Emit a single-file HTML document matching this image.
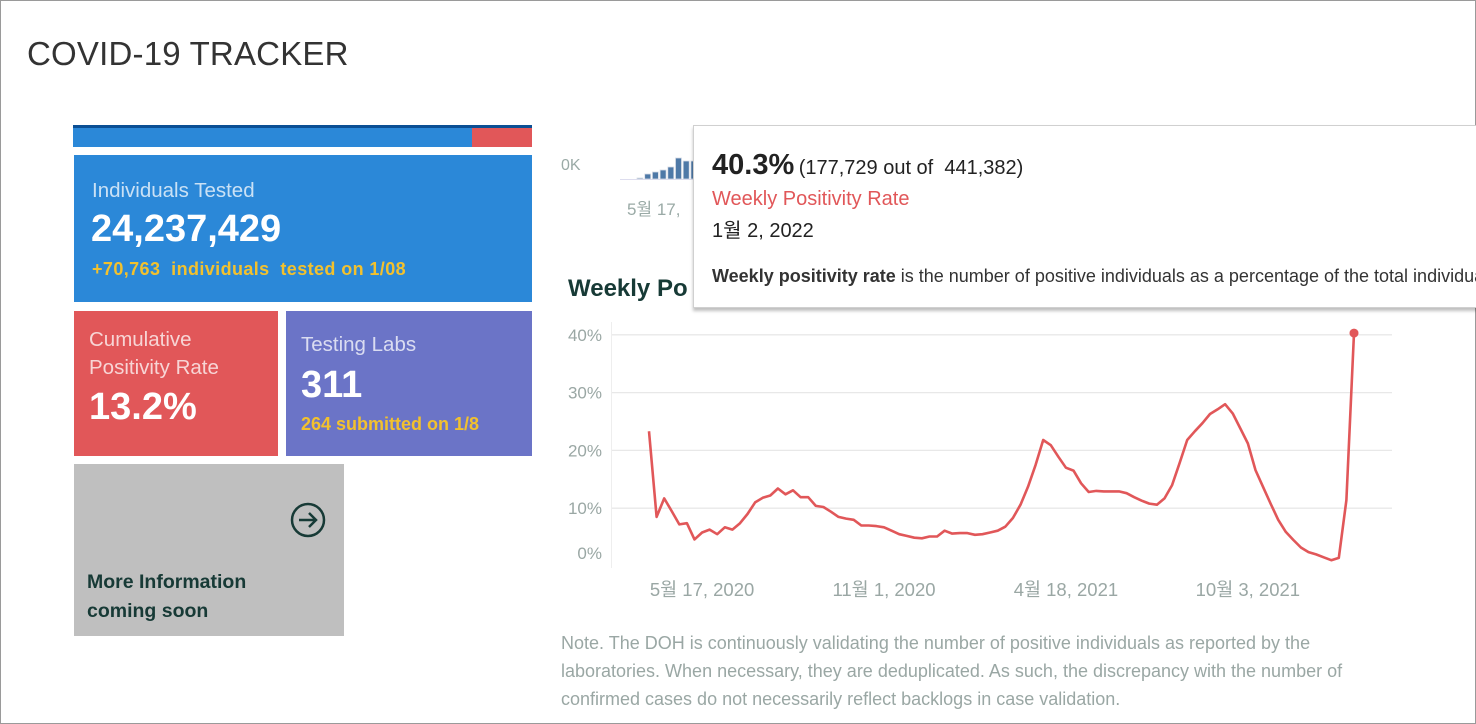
<!DOCTYPE html>
<html><head><meta charset="utf-8">
<style>
*{margin:0;padding:0;box-sizing:border-box}
body{width:1476px;height:724px;background:#fff;font-family:"Liberation Sans","Noto Sans CJK KR",sans-serif;position:relative;overflow:hidden}
.abs{position:absolute}
#frame{left:0;top:0;width:1476px;height:724px;border:1px solid #9a9a9a}
.card{position:absolute;color:#fff}
.lbl{font-size:20.5px;opacity:.75}
.big{font-weight:bold;font-size:38px}
.sub{font-weight:bold;font-size:18px;color:#f2c12e}
</style></head><body>
<div id="frame" class="abs"></div>
<div class="abs" style="left:27px;top:35px;font-size:33px;color:#333;letter-spacing:0.2px">COVID-19 TRACKER</div>

<div class="abs" style="left:73px;top:125px;width:459px;height:3px;background:#0b4f94"></div>
<div class="abs" style="left:73px;top:128px;width:399px;height:19px;background:#2b88d8"></div>
<div class="abs" style="left:472px;top:128px;width:60px;height:19px;background:#e15759"></div>

<div class="card" style="left:74px;top:155px;width:458px;height:147px;background:#2b88d8">
 <div class="abs lbl" style="left:18px;top:24px">Individuals Tested</div>
 <div class="abs big" style="left:17px;top:53px">24,237,429</div>
 <div class="abs sub" style="left:18px;top:104px;letter-spacing:0.4px">+70,763&nbsp; individuals&nbsp; tested on 1/08</div>
</div>
<div class="card" style="left:74px;top:311px;width:204px;height:145px;background:#e15759">
 <div class="abs lbl" style="left:15px;top:15px;line-height:28px">Cumulative<br>Positivity Rate</div>
 <div class="abs big" style="left:15px;top:75px">13.2%</div>
</div>
<div class="card" style="left:286px;top:311px;width:246px;height:145px;background:#6b74c7">
 <div class="abs lbl" style="left:15px;top:22px">Testing Labs</div>
 <div class="abs big" style="left:15px;top:53px">311</div>
 <div class="abs sub" style="left:15px;top:103px">264 submitted on 1/8</div>
</div>
<div class="card" style="left:74px;top:464px;width:270px;height:172px;background:#bfbfbf">
 <svg class="abs" style="left:216px;top:38px" width="36" height="36" viewBox="0 0 36 36"><circle cx="18" cy="18" r="16" fill="none" stroke="#173a36" stroke-width="2.5"/><path d="M9 18h16M19 11l7 7-7 7" fill="none" stroke="#173a36" stroke-width="2.5"/></svg>
 <div class="abs" style="left:13px;top:104px;color:#173a36;font-weight:bold;font-size:19.5px;line-height:29px">More Information<br>coming soon</div>
</div>

<div class="abs" style="left:561px;top:157px;font-size:16px;color:#9aaaa6">0K</div>
<svg class="abs" id="mini" style="left:620px;top:140px" width="80" height="45"></svg>
<div class="abs" style="left:627px;top:195px;font-size:17px;color:#9aaaa6">5월 17,</div>

<div class="abs" style="left:568px;top:275px;font-size:24px;font-weight:bold;color:#173a36">Weekly Po</div>

<svg class="abs" id="chart" style="left:0;top:0" width="1476" height="724"></svg>

<div class="abs" style="left:561px;top:629px;width:830px;font-size:18px;line-height:28px;color:#9aa7a4">Note. The DOH is continuously validating the number of positive individuals as reported by the laboratories. When necessary, they are deduplicated. As such, the discrepancy with the number of confirmed cases do not necessarily reflect backlogs in case validation.</div>

<div class="abs" style="left:693px;top:125px;width:790px;height:183px;background:#fff;border:1px solid #d0d0d0;box-shadow:0 3px 3px rgba(0,0,0,.25);overflow:hidden;white-space:nowrap">
 <div class="abs" style="left:18px;top:23px;color:#222"><b style="font-size:29px">40.3%</b> <span style="font-size:20px">(177,729 out of &nbsp;441,382)</span></div>
 <div class="abs" style="left:18px;top:62px;font-size:20px;color:#e15759">Weekly Positivity Rate</div>
 <div class="abs" style="left:18px;top:88px;font-size:20px;color:#222">1월 2, 2022</div>
 <div class="abs" style="left:18px;top:140px;font-size:18px;color:#333"><b>Weekly positivity rate</b> is the number of positive individuals as a percentage of the total individuals tested</div>
</div>

<script>
const miniValues = [1, 5, 7, 9, 12, 21, 18, 18];
const yTickValues = [0, 10, 20, 30, 40];
const yTickLabels = ['0%', '10%', '20%', '30%', '40%'];
const xTickIndex = [7, 31, 55, 79];
const xTickLabels = ['5월 17, 2020', '11월 1, 2020', '4월 18, 2021', '10월 3, 2021'];
const positivity = [23.3,8.5,11.7,9.5,7.2,7.4,4.6,5.8,6.3,5.5,
6.7,6.3,7.4,9.0,11.0,11.8,12.2,13.4,12.4,13.1,
11.9,11.9,10.4,10.2,9.4,8.5,8.2,8.0,7.0,7.0,
6.9,6.7,6.1,5.5,5.2,4.9,4.8,5.1,5.1,6.1,
5.6,5.7,5.7,5.4,5.5,5.8,6.1,6.8,8.3,10.6,
13.7,17.5,21.8,20.9,18.9,17.0,16.5,14.3,12.8,13.0,
12.9,12.9,12.9,12.6,11.9,11.3,10.8,10.6,11.7,14.0,
17.8,21.8,23.3,24.7,26.3,27.1,28.0,26.4,23.8,21.2,
16.6,13.7,10.8,8.0,5.9,4.5,3.2,2.4,2.0,1.5,
1.0,1.4,11.4,40.3];

const NS='http://www.w3.org/2000/svg';
function mk(tag, attrs, parent){const e=document.createElementNS(NS,tag);for(const k in attrs)e.setAttribute(k,attrs[k]);parent.appendChild(e);return e;}

const mini=document.getElementById('mini');
const mbase=39, mscale=1.0;
mk('line',{x1:0,y1:mbase+0.5,x2:78,y2:mbase+0.5,stroke:'#dde',"stroke-width":1},mini);
miniValues.forEach((v,i)=>{
  const r=mk('rect',{x:17+i*7.7,y:mbase-v*mscale,width:6,height:v*mscale,fill:'#4e79a7',stroke:'#d8dde6','stroke-width':0.8},mini);
  
  
});

const svg=document.getElementById('chart');
const x0=649, x1=1354, y0=566, pxPer=5.78;
const xs=i=>x0+i*(x1-x0)/(positivity.length-1);
const ys=v=>y0-v*pxPer;
mk('line',{x1:611.5,y1:322,x2:611.5,y2:568,stroke:'#eee'},svg);
yTickValues.forEach((v,i)=>{
  if(v>0){const g=mk('line',{x1:612,y1:ys(v),x2:1392,y2:ys(v),stroke:'#e8e8e8','stroke-width':1.3},svg);
  
  }
  const ty = v===0 ? 553 : ys(v);
  const t=mk('text',{x:602,y:ty+6,'text-anchor':'end','font-size':17,fill:'#9aa7a4','font-family':'Liberation Sans, Noto Sans CJK KR, sans-serif'},svg);
  t.textContent=yTickLabels[i];
  
  
});
xTickIndex.forEach((idx,i)=>{
  const t=mk('text',{x:xs(idx),y:596,'text-anchor':'middle','font-size':18.5,fill:'#9aa7a4','font-family':'Liberation Sans, Noto Sans CJK KR, sans-serif'},svg);
  t.textContent=xTickLabels[i];
  
  
});
const d=positivity.map((v,i)=>(i?'L':'M')+xs(i).toFixed(1)+' '+ys(v).toFixed(1)).join(' ');
const line=mk('path',{d:d,fill:'none',stroke:'#e15759','stroke-width':2.6,'stroke-linejoin':'round'},svg);


const last=positivity.length-1;
const dot=mk('circle',{cx:xs(last),cy:ys(positivity[last]),r:4.5,fill:'#e15759'},svg);


</script>
</body></html>
